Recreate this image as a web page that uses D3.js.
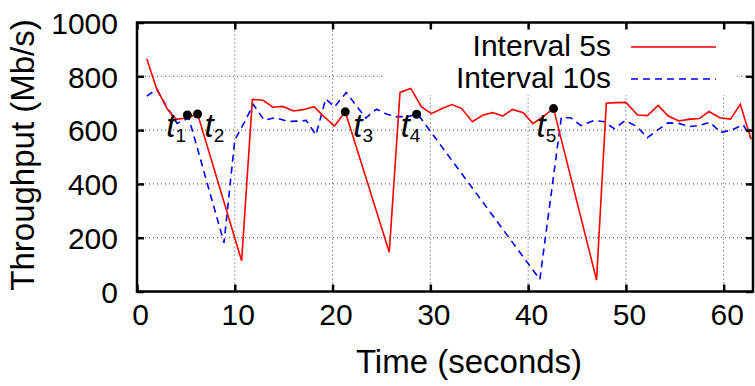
<!DOCTYPE html>
<html><head><meta charset="utf-8">
<script src="https://cdn.jsdelivr.net/npm/d3@7"></script>
<style>
html,body{margin:0;padding:0;background:#fff;}
svg{display:block;}
text{font-family:"Liberation Sans",Arial,sans-serif;fill:#000;}
</style></head>
<body><svg id="chart" width="755" height="386"></svg>
<script>
// ---- data ----
const seriesNames = ["Interval 5s", "Interval 10s"];
const redTimes  = [1.0,2.0,3.1,4.0,5.1,6.2,10.7,11.8,12.9,13.9,14.9,16.0,17.0,18.1,19.1,20.2,21.3,25.8,26.9,28.0,29.1,30.1,31.2,32.2,33.2,34.3,35.4,36.4,37.4,38.4,39.5,40.5,41.6,42.6,47.0,48.0,49.0,50.0,51.2,52.2,53.3,54.3,55.4,56.4,57.5,58.5,59.6,60.7,61.7,62.8];
const redValues = [865,755,678,640,645,660,114,714,711,685,688,671,676,687,651,615,668,146,740,755,686,661,680,695,680,631,656,665,652,677,665,624,652,680,43,700,702,703,656,654,692,653,634,640,643,669,646,641,696,566];
const blueTimes  = [1.0,2.0,3.0,4.1,5.3,8.9,10.0,11.0,11.9,13.0,14.1,15.5,16.8,17.3,18.3,19.3,20.2,21.4,23.4,24.5,25.5,26.5,27.7,28.7,41.2,43.4,44.4,45.4,46.8,47.8,48.8,49.9,51.1,52.2,53.3,54.3,55.4,56.5,57.5,58.6,59.7,60.8,62.0,62.8];
const blueValues = [726,752,690,625,645,181,563,630,695,637,646,632,634,636,582,716,686,740,645,678,660,650,650,660,45,648,645,617,636,631,605,635,614,572,602,627,625,613,617,629,591,600,620,570];
const markerNames  = ["1","2","3","4","5"];
const markerTimes  = [5.15,6.2,21.3,28.6,42.6];
const markerValues = [656,660,668,659,680];
const xTicks = [0,10,20,30,40,50,60];
const yTicks = [0,200,400,600,800,1000];
const xTitle = "Time (seconds)";
const yTitle = "Throughput (Mb/s)";

// ---- layout ----
const L = 137, R = 753, T = 22.5, B = 291.5;
const svg = d3.select("#chart");
const x = d3.scaleLinear().domain([0, 63]).range([L, R]);
const y = d3.scaleLinear().domain([0, 1000]).range([B, T]);

// grid
const grid = svg.append("g").attr("stroke", "#444").attr("stroke-width", 1).attr("stroke-dasharray", "1,3");
xTicks.filter(d => d > 0 && d < 63).forEach(d => {
  grid.append("line").attr("x1", x(d)).attr("x2", x(d)).attr("y1", B).attr("y2", T);
});
yTicks.filter(d => d > 0 && d < 1000).forEach(d => {
  grid.append("line").attr("x1", L).attr("x2", R).attr("y1", y(d)).attr("y2", y(d));
});

// legend box (opaque)
svg.append("rect").attr("x", 382).attr("y", T).attr("width", 735 - 382).attr("height", 95 - T).attr("fill", "#fff");

// lines
const redData = redTimes.map((t, i) => [t, redValues[i]]);
const blueData = blueTimes.map((t, i) => [t, blueValues[i]]);
const line = d3.line().x(d => x(d[0])).y(d => y(d[1]));
svg.append("clipPath").attr("id", "clip").append("rect").attr("x", L).attr("y", T).attr("width", R - L).attr("height", B - T);
svg.append("path").datum(blueData).attr("d", line).attr("fill", "none").attr("stroke", "#0000ff").attr("stroke-width", 1.6).attr("stroke-dasharray", "7,5").attr("clip-path", "url(#clip)");
svg.append("path").datum(redData).attr("d", line).attr("fill", "none").attr("stroke", "#ff0000").attr("stroke-width", 1.6).attr("clip-path", "url(#clip)");

// legend
const legY = [47, 79];
const legColors = ["#ff0000", "#0000ff"];
seriesNames.forEach((n, i) => {
  svg.append("text").attr("x", 611).attr("y", legY[i] + 9).attr("text-anchor", "end").attr("font-size", 30).text(n);
  svg.append("line").attr("x1", 631).attr("x2", 716).attr("y1", legY[i]).attr("y2", legY[i])
    .attr("stroke", legColors[i]).attr("stroke-width", 1.6).attr("stroke-dasharray", i ? "7,5" : null);
});

// markers
const labOffsets = [-21, 7, 8, -16, -17];
markerTimes.forEach((t, i) => {
  const cx = x(t), cy = y(markerValues[i]);
  svg.append("circle").attr("cx", cx).attr("cy", cy).attr("r", 4.5).attr("fill", "#000");
  const tx = svg.append("text").attr("x", cx + labOffsets[i]).attr("y", 136.5)
    .attr("font-family", "'Liberation Serif', serif").attr("font-style", "italic").attr("font-size", 33);
  tx.append("tspan").text("t");
  tx.append("tspan").attr("dy", 5).attr("font-style", "normal").attr("font-family", "'Liberation Sans', sans-serif").attr("font-size", 19).text(markerNames[i]);
});

// axes via d3
const tickLen = 7;
const axB = svg.append("g").attr("transform", `translate(0,${B})`).call(d3.axisBottom(x).tickValues(xTicks).tickSize(-tickLen).tickPadding(0).tickFormat(d3.format("d")));
const axT = svg.append("g").attr("transform", `translate(0,${T})`).call(d3.axisTop(x).tickValues(xTicks).tickSize(-tickLen).tickFormat(""));
const axL = svg.append("g").attr("transform", `translate(${L},0)`).call(d3.axisLeft(y).tickValues(yTicks).tickSize(-tickLen).tickPadding(0).tickFormat(d3.format("d")));
const axR = svg.append("g").attr("transform", `translate(${R},0)`).call(d3.axisRight(y).tickValues(yTicks).tickSize(-tickLen).tickFormat(""));
[axB, axT, axL, axR].forEach(a => {
  a.select(".domain").remove();
  a.selectAll(".tick line").attr("stroke", "#000").attr("stroke-width", 2.5);
});
axB.selectAll(".tick text").attr("font-size", 30).attr("font-family", "'Liberation Sans', sans-serif").attr("dy", null).attr("y", 0).attr("transform", "translate(3,33)");
axL.selectAll(".tick text").attr("font-size", 30).attr("font-family", "'Liberation Sans', sans-serif").attr("x", 118 - L).attr("dy", "0.36em");

// border
svg.append("rect").attr("x", L).attr("y", T).attr("width", R - L).attr("height", B - T).attr("fill", "none").attr("stroke", "#000").attr("stroke-width", 2.5);

// titles
svg.append("text").attr("x", 469).attr("y", 373).attr("text-anchor", "middle").attr("font-size", 33).text(xTitle);
svg.append("text").attr("transform", "translate(34,155) rotate(-90)").attr("text-anchor", "middle").attr("font-size", 33).text(yTitle);
</script></body></html>
